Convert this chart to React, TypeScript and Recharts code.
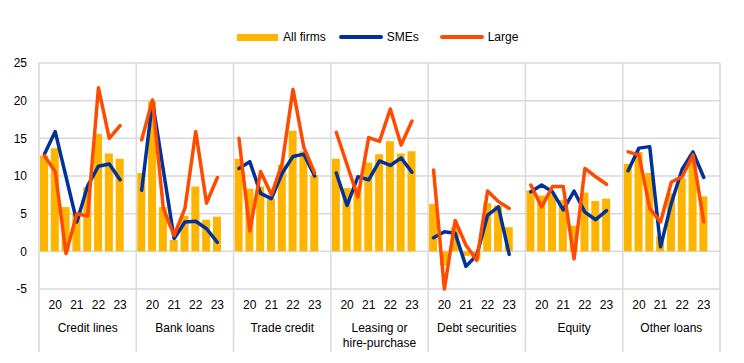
import { ComposedChart, Bar, Line, XAxis, YAxis, CartesianGrid } from 'recharts';

const GROUPS = [
    'Credit lines',
    'Bank loans',
    'Trade credit',
    'Leasing or\nhire-purchase',
    'Debt securities',
    'Equity',
    'Other loans',
];

// one label per period, shown under every second bar
const PERIOD_LABELS = ['', '20', '', '21', '', '22', '', '23'];

const Y_TICKS = [-5, 0, 5, 10, 15, 20, 25];

const ALL_FIRMS = [
    [12.7, 13.7, 5.9, 5.0, 8.5, 15.6, 13.0, 12.3],
    [10.4, 19.9, 5.9, 1.5, 4.7, 8.6, 4.2, 4.6],
    [12.3, 8.3, 8.6, 7.0, 11.5, 16.0, 13.3, 10.1],
    [12.3, 8.4, 8.6, 11.8, 12.9, 14.6, 13.0, 13.3],
    [6.3, -1.9, 3.2, -0.6, -1.1, 6.4, 6.1, 3.2],
    [8.1, 7.4, 7.6, 6.8, 3.4, 7.8, 6.7, 7.0],
    [11.6, 13.2, 10.4, 2.0, 7.7, 9.7, 12.8, 7.3],
];

const SMES = [
    [12.9, 15.9, 9.9, 3.9, 8.7, 11.3, 11.6, 9.5],
    [8.1, 19.9, 10.8, 1.7, 3.9, 4.0, 3.0, 1.2],
    [11.0, 11.9, 7.7, 7.0, 10.4, 12.6, 12.9, 10.0],
    [10.4, 6.1, 9.9, 9.5, 12.0, 11.4, 12.4, 10.5],
    [1.8, 2.6, 2.4, -2.0, -0.5, 4.8, 5.9, -0.4],
    [7.9, 8.8, 7.9, 5.5, 8.0, 5.2, 4.2, 5.4],
    [10.7, 13.7, 13.9, 0.6, 6.4, 10.9, 13.2, 9.8],
];

const LARGE = [
    [12.7, 10.6, -0.3, 5.0, 4.7, 21.7, 15.0, 16.7],
    [14.8, 20.1, 5.7, 2.1, 5.7, 15.9, 6.4, 9.8],
    [15.0, 2.7, 10.6, 7.5, 11.7, 21.5, 13.8, 10.4],
    [15.8, 11.5, 7.2, 15.1, 14.6, 18.9, 14.1, 17.3],
    [10.8, -5.0, 4.1, 0.8, -1.2, 8.0, 6.6, 5.7],
    [8.8, 5.9, 8.6, 8.6, -1.0, 11.0, 9.9, 8.9],
    [13.2, 12.8, 5.7, 3.9, 9.2, 9.9, 12.8, 3.9],
];

const YELLOW = '#FFB400';
const BLUE = '#003299';
const ORANGE = '#FF4B00';
const GRID = '#d9d9d9';
const FONT = 'Arial, "Liberation Sans", sans-serif';

const W = 744;
const H = 363;
const PLOT_LEFT = 39;
const PLOT_RIGHT = 24;
const PLOT_TOP = 63;
const PLOT_BOTTOM = 289;
const SEP_BOTTOM = 352;

// each group gets an empty slot at the end so the lines break between groups
const rows = GROUPS.flatMap((_, gi) => [
    ...PERIOD_LABELS.map((_, si) => ({
        key: `${gi}-${si}`,
        all: ALL_FIRMS[gi][si],
        sme: SMES[gi][si],
        large: LARGE[gi][si],
    })),
    { key: `${gi}-gap`, all: null, sme: null, large: null },
]);

const BAND = (W - PLOT_LEFT - PLOT_RIGHT) / rows.length;

const GroupTick = ({ x, payload }: any) => {
    const [gs, ss] = String(payload.value).split('-');
    const gi = Number(gs);
    const sepProps = { stroke: GRID, strokeWidth: 1.5, y1: PLOT_TOP, y2: SEP_BOTTOM };

    if (ss === 'gap') {
        return <line x1={x + BAND / 2} x2={x + BAND / 2} {...sepProps} />;
    }
    const si = Number(ss);
    const lines = GROUPS[gi].split('\n');
    return (
        <g>
            {gi === 0 && si === 0 && <line x1={x - BAND / 2} x2={x - BAND / 2} {...sepProps} />}
            {PERIOD_LABELS[si] && (
                <text x={x} y={PLOT_BOTTOM + 20} textAnchor="middle" fontSize={12} fill="#000" fontFamily={FONT}>
                    {PERIOD_LABELS[si]}
                </text>
            )}
            {si === 4 &&
                lines.map((l, i) => (
                    <text
                        key={l}
                        x={x}
                        y={PLOT_BOTTOM + 43 + i * 15}
                        textAnchor="middle"
                        fontSize={12}
                        fill="#000"
                        fontFamily={FONT}
                    >
                        {l}
                    </text>
                ))}
        </g>
    );
};

const legendText = { fontSize: 12, fontFamily: FONT, color: '#000' };

export default function App() {
    return (
        <div style={{ position: 'absolute', left: 0, top: 0, width: W, height: H, background: '#fff' }}>
            <ComposedChart
                width={W}
                height={H}
                data={rows}
                margin={{ top: PLOT_TOP, right: PLOT_RIGHT, left: 0, bottom: 0 }}
                barSize={8}
            >
                <CartesianGrid vertical={false} stroke={GRID} strokeWidth={1.5} />
                <XAxis
                    dataKey="key"
                    interval={0}
                    height={H - PLOT_BOTTOM}
                    axisLine={false}
                    tickLine={false}
                    tick={<GroupTick />}
                />
                <YAxis
                    width={PLOT_LEFT}
                    domain={[-5, 25]}
                    ticks={Y_TICKS}
                    axisLine={false}
                    tickLine={false}
                    tickMargin={6}
                    tick={{ fontSize: 12, fill: '#000', fontFamily: FONT }}
                />
                <Bar dataKey="all" fill={YELLOW} isAnimationActive={false} />
                <Line
                    dataKey="sme"
                    stroke={BLUE}
                    strokeWidth={3.5}
                    dot={false}
                    strokeLinecap="round"
                    strokeLinejoin="round"
                    isAnimationActive={false}
                />
                <Line
                    dataKey="large"
                    stroke={ORANGE}
                    strokeWidth={3.5}
                    dot={false}
                    strokeLinecap="round"
                    strokeLinejoin="round"
                    isAnimationActive={false}
                />
            </ComposedChart>

            {/* legend */}
            <div style={{ position: 'absolute', top: 29, left: 237, display: 'flex', alignItems: 'center', height: 16 }}>
                <div style={{ width: 41, height: 7, background: YELLOW }} />
                <span style={{ ...legendText, marginLeft: 5 }}>All firms</span>
                <div style={{ width: 44, height: 4, background: BLUE, borderRadius: 2, marginLeft: 13 }} />
                <span style={{ ...legendText, marginLeft: 4 }}>SMEs</span>
                <div style={{ width: 44, height: 4, background: ORANGE, borderRadius: 2, marginLeft: 21 }} />
                <span style={{ ...legendText, marginLeft: 4 }}>Large</span>
            </div>
        </div>
    );
}
